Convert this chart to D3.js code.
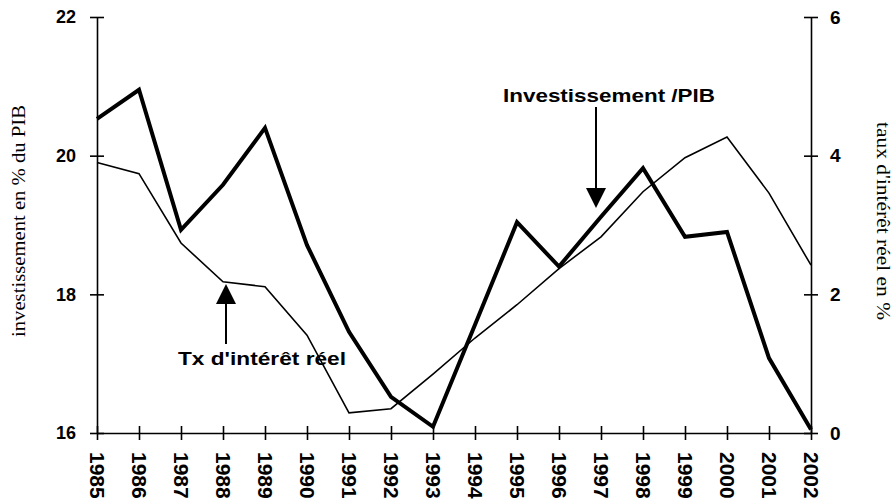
<!DOCTYPE html>
<html>
<head>
<meta charset="utf-8">
<script src="https://cdn.jsdelivr.net/npm/d3@7"></script>
<style>
  body { margin: 0; background: #fff; }
  .tick text { font-family: "Liberation Sans", Arial, sans-serif; font-weight: bold; fill: #000; }
  .domain, .tick line { stroke: #000; stroke-width: 1.6; }
</style>
</head>
<body>
<svg id="chart"></svg>
<script>
// years on the x axis
var years = d3.range(1985, 2003);
// investissement en % du PIB (left axis)
var investissement = [20.53, 20.95, 18.93, 19.58, 20.40, 18.71, 17.46, 16.52, 16.09,
  17.56, 19.04, 18.40, 19.12, 19.82, 18.83, 18.90, 17.08, 16.05];
// taux d'intérêt réel en % (right axis)
var tauxReel = [3.90, 3.74, 2.74, 2.18, 2.11, 1.41, 0.29, 0.35, 0.85,
  1.37, 1.85, 2.37, 2.83, 3.48, 3.97, 4.27, 3.46, 2.42];
var leftTicks = [16, 18, 20, 22];
var rightTicks = [0, 2, 4, 6];

var width = 892, height = 499;
var margin = { top: 17, right: 81, bottom: 66, left: 97 };

var svg = d3.select('#chart')
  .attr('width', width)
  .attr('height', height);

/* scales */
var x = d3.scaleLinear()
  .domain([1985, 2002])
  .range([margin.left, width - margin.right]);
var yLeft = d3.scaleLinear()
  .domain([16, 22])
  .range([height - margin.bottom, margin.top]);
var yRight = d3.scaleLinear()
  .domain([0, 6])
  .range([height - margin.bottom, margin.top]);

/* lines */
var lineInv = d3.line()
  .x(function(d, i) { return x(years[i]); })
  .y(function(d) { return yLeft(d); });
var lineTaux = d3.line()
  .x(function(d, i) { return x(years[i]); })
  .y(function(d) { return yRight(d); });

svg.append('path')
  .datum(tauxReel)
  .attr('d', lineTaux)
  .attr('fill', 'none')
  .attr('stroke', '#000')
  .attr('stroke-width', 1.6)
  .attr('stroke-linejoin', 'miter');

svg.append('path')
  .datum(investissement)
  .attr('d', lineInv)
  .attr('fill', 'none')
  .attr('stroke', '#000')
  .attr('stroke-width', 4)
  .attr('stroke-linejoin', 'miter');

/* x axis: ticks cross the axis line */
var gx = svg.append('g')
  .attr('transform', 'translate(0,' + yLeft(16) + ')')
  .call(d3.axisBottom(x).tickValues(years).tickFormat(d3.format('d'))
    .tickSizeInner(7).tickSizeOuter(0).tickPadding(0));
gx.selectAll('.tick line').attr('y1', -7).attr('y2', 7);
gx.selectAll('.tick text')
  .attr('font-size', 21)
  .attr('transform', 'translate(0,19) rotate(90)')
  .attr('y', 0)
  .attr('dy', '0.36em')
  .style('text-anchor', 'start');

/* left axis */
var gl = svg.append('g')
  .attr('transform', 'translate(' + x(1985) + ',0)')
  .call(d3.axisLeft(yLeft).tickValues(leftTicks).tickFormat(d3.format('d'))
    .tickSizeInner(7).tickSizeOuter(0).tickPadding(14));
gl.selectAll('.tick line').attr('x1', -7).attr('x2', 7);
gl.selectAll('.tick text').attr('font-size', 18);

/* right axis */
var gr = svg.append('g')
  .attr('transform', 'translate(' + x(2002) + ',0)')
  .call(d3.axisRight(yRight).tickValues(rightTicks).tickFormat(d3.format('d'))
    .tickSizeInner(7).tickSizeOuter(0).tickPadding(12));
gr.selectAll('.tick line').attr('x1', -7).attr('x2', 7);
gr.selectAll('.tick text').attr('font-size', 19);

/* axis titles */
svg.append('text')
  .attr('transform', 'translate(21,221) rotate(-90)')
  .attr('text-anchor', 'middle')
  .attr('dominant-baseline', 'middle')
  .attr('font-family', '"Liberation Serif", "Times New Roman", serif')
  .attr('font-size', 18)
  .attr('textLength', 232)
  .attr('lengthAdjust', 'spacingAndGlyphs')
  .text('investissement en % du PIB');

svg.append('text')
  .attr('transform', 'translate(881,221) rotate(90)')
  .attr('text-anchor', 'middle')
  .attr('dominant-baseline', 'middle')
  .attr('font-family', '"Liberation Serif", "Times New Roman", serif')
  .attr('font-size', 18)
  .attr('textLength', 198)
  .attr('lengthAdjust', 'spacingAndGlyphs')
  .text("taux d'intérêt réel en %");

/* annotations */
function arrow(xPos, yTail, yTip) {
  var dir = yTip > yTail ? 1 : -1;
  var head = 20;
  svg.append('line')
    .attr('x1', xPos).attr('x2', xPos)
    .attr('y1', yTail).attr('y2', yTip - dir * head)
    .attr('stroke', '#000').attr('stroke-width', 2);
  svg.append('path')
    .attr('d', 'M' + (xPos - 10) + ',' + (yTip - dir * head) +
      'L' + (xPos + 10) + ',' + (yTip - dir * head) +
      'L' + xPos + ',' + yTip + 'Z')
    .attr('fill', '#000');
}

svg.append('text')
  .attr('x', 503).attr('y', 102)
  .attr('font-family', '"Liberation Sans", Arial, sans-serif')
  .attr('font-weight', 'bold')
  .attr('font-size', 18)
  .attr('textLength', 212)
  .attr('lengthAdjust', 'spacingAndGlyphs')
  .text('Investissement /PIB');
arrow(596, 107, 208);

svg.append('text')
  .attr('x', 178).attr('y', 365)
  .attr('font-family', '"Liberation Sans", Arial, sans-serif')
  .attr('font-weight', 'bold')
  .attr('font-size', 19)
  .attr('textLength', 168)
  .attr('lengthAdjust', 'spacingAndGlyphs')
  .text("Tx d'intérêt réel");
arrow(226, 344, 284);
</script>
</body>
</html>
